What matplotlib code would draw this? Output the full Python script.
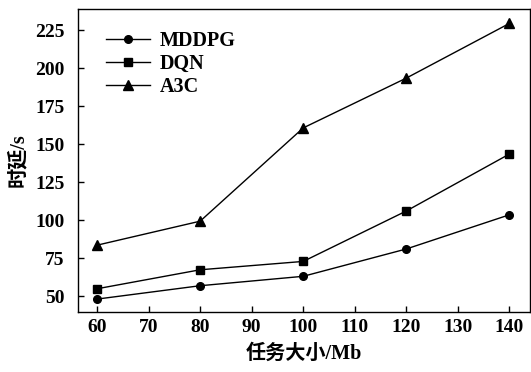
import matplotlib
matplotlib.use('Agg')
import matplotlib.pyplot as plt

plt.rcParams['font.family'] = ['Liberation Serif', 'Noto Sans CJK SC']
plt.rcParams['font.weight'] = 'bold'

# data
task_size = [60, 80, 100, 120, 140]
mddpg = [48, 56.8, 63, 81, 103.5]
dqn = [54.8, 67.3, 72.8, 106, 143.5]
a3c = [83.5, 99.3, 160.7, 193.5, 229.5]

fig = plt.figure(figsize=(5.31, 3.72), dpi=100)
ax = fig.add_axes([78/531, 1-312/372, (530-78)/531, (312-9)/372])

ax.plot(task_size, mddpg, color='k', lw=1.0, marker='o', ms=5.5, label='MDDPG')
ax.plot(task_size, dqn, color='k', lw=1.0, marker='s', ms=5.8, label='DQN')
ax.plot(task_size, a3c, color='k', lw=1.0, marker='^', ms=7, label='A3C')

ax.set_xlim(56.3, 144)
ax.set_ylim(39.5, 239)
ax.set_xticks([60, 70, 80, 90, 100, 110, 120, 130, 140])
ax.set_yticks([50, 75, 100, 125, 150, 175, 200, 225])
ax.tick_params(direction='in', length=4, width=1, labelsize=14)
ax.tick_params(axis='x', pad=5)
ax.tick_params(axis='y', pad=9.5)
for s in ax.spines.values():
    s.set_linewidth(1.0)

ax.set_xlabel('任务大小/Mb', fontsize=14.5, fontweight='bold', labelpad=6)
ax.set_ylabel('时延/s', fontsize=14.5, fontweight='bold', labelpad=5)

ax.legend(loc='upper left', frameon=False, fontsize=14.5, handlelength=2.2,
          labelspacing=0.15, borderaxespad=0.0, borderpad=0.3,
          bbox_to_anchor=(0.048, 0.948), handletextpad=0.5)

fig.savefig('out.png', dpi=100)
